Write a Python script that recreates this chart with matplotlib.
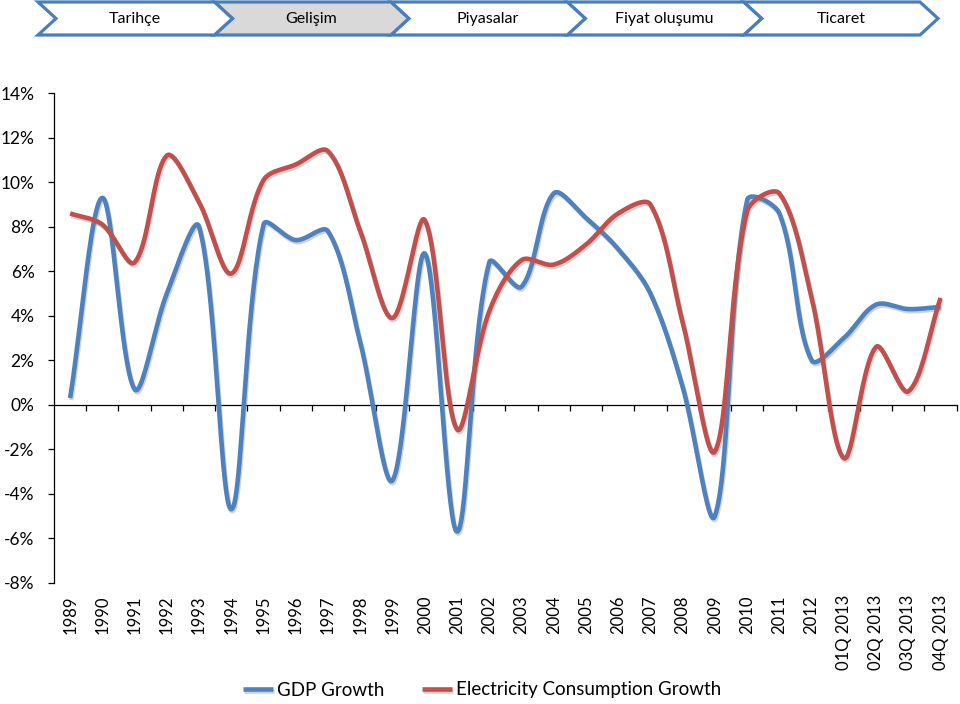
import numpy as np
import matplotlib
matplotlib.use("Agg")
import matplotlib.pyplot as plt
from matplotlib.patches import Polygon
import matplotlib.patheffects as pe
from matplotlib.ticker import FuncFormatter, FixedLocator

plt.rcParams['font.family'] = ['Lato', 'DejaVu Sans']

categories = ['1989', '1990', '1991', '1992', '1993', '1994', '1995', '1996',
              '1997', '1998', '1999', '2000', '2001', '2002', '2003', '2004',
              '2005', '2006', '2007', '2008', '2009', '2010', '2011', '2012',
              '01Q 2013', '02Q 2013', '03Q 2013', '04Q 2013']

gdp_growth = [0.3, 9.3, 0.7, 5.0, 8.0, -4.7, 8.1, 7.4, 7.8, 2.8, -3.4, 6.8,
              -5.7, 6.4, 5.3, 9.5, 8.4, 7.0, 5.0, 0.8, -5.0, 9.2, 8.6, 2.0,
              3.0, 4.5, 4.3, 4.4]

elec_growth = [8.6, 8.1, 6.4, 11.2, 9.1, 5.9, 10.1, 10.8, 11.4, 7.8, 3.9, 8.3,
               -1.1, 4.2, 6.5, 6.3, 7.2, 8.6, 9.0, 3.7, -2.1, 8.7, 9.5, 4.8,
               -2.4, 2.6, 0.6, 4.8]

series_names = ['GDP Growth', 'Electricity Consumption Growth']
series_colors = ['#4F81BD', '#C0504D']

nav_items = ['Tarihçe', 'Gelişim', 'Piyasalar', 'Fiyat oluşumu', 'Ticaret']
nav_active = 'Gelişim'

y_ticks = [-8, -6, -4, -2, 0, 2, 4, 6, 8, 10, 12, 14]


def smooth(xs, ys, sx, sy, n=40):
    """Excel-like smoothed line: Bezier segments whose tangent lengths are
    scaled by neighbouring segment lengths (measured in screen units)."""
    xs = np.asarray(xs, float)
    ys = np.asarray(ys, float)
    P = np.column_stack([xs * sx, ys * sy])
    m = len(P)
    tang = np.zeros_like(P)
    dprev = np.zeros(m)
    dnext = np.zeros(m)
    for i in range(m):
        a = P[max(i - 1, 0)]
        b = P[min(i + 1, m - 1)]
        tang[i] = b - a
        dprev[i] = np.hypot(*(P[i] - a))
        dnext[i] = np.hypot(*(b - P[i]))
    t = np.linspace(0, 1, n)[:, None]
    out = []
    for i in range(m - 1):
        p0, p3 = P[i], P[i + 1]
        s0 = dprev[i] + dnext[i]
        s1 = dprev[i + 1] + dnext[i + 1]
        c1 = p0 + tang[i] * (dnext[i] / s0 / 3 if s0 > 0 else 0)
        c2 = p3 - tang[i + 1] * (dprev[i + 1] / s1 / 3 if s1 > 0 else 0)
        b = (1 - t) ** 3 * p0 + 3 * (1 - t) ** 2 * t * c1 + 3 * (1 - t) * t ** 2 * c2 + t ** 3 * p3
        out.append(b if i == 0 else b[1:])
    B = np.vstack(out)
    return B[:, 0] / sx, B[:, 1] / sy


W, H = 960, 704
fig = plt.figure(figsize=(W / 100, H / 100), dpi=100)

# ---------- navigation chevrons ----------
nav = fig.add_axes([0, 0, 1, 1])
nav.set_xlim(0, W)
nav.set_ylim(H, 0)
nav.axis('off')
x_start, step, depth = 38, 176.4, 18
top, bot = 2, 35
mid = (top + bot) / 2
for i, name in enumerate(nav_items):
    x0 = x_start + i * step
    x1 = x0 + step
    pts = [(x0, top), (x1, top), (x1 + depth, mid), (x1, bot), (x0, bot), (x0 + depth, mid)]
    fc = '#D9D9D9' if name == nav_active else 'white'
    nav.add_patch(Polygon(pts, closed=True, facecolor=fc, edgecolor='#4A7EBB',
                          linewidth=2.3, joinstyle='miter', zorder=2 + (len(nav_items) - i)))
    nav.text(x0 + step / 2 + depth / 2, mid + 0.5, name, ha='center', va='center',
             fontsize=11.5, color='black', zorder=10)

# ---------- chart ----------
left_px, right_px = 54, 956.7
ax_bottom, ax_top = 582.7, 93.3
ax = fig.add_axes([left_px / W, 1 - ax_bottom / H, (right_px - left_px) / W, (ax_bottom - ax_top) / H])
ax.set_xlim(-0.5, len(categories) - 0.5)
ax.set_ylim(min(y_ticks), max(y_ticks))

px_per_x = (right_px - left_px) / len(categories)
px_per_y = (ax_bottom - ax_top) / (max(y_ticks) - min(y_ticks))

xs = np.arange(len(categories))
for vals, name, col in zip([gdp_growth, elec_growth], series_names, series_colors):
    cx, cy = smooth(xs, vals, px_per_x, px_per_y)
    ax.plot(cx, cy, color=col, lw=3.3, label=name, solid_capstyle='butt',
            path_effects=[pe.SimpleLineShadow(offset=(0.8, -1.5), shadow_color='#808080', alpha=0.35),
                          pe.Normal()], zorder=3)

for s in ['top', 'right']:
    ax.spines[s].set_visible(False)
ax.spines['bottom'].set_position(('data', 0))
ax.spines['bottom'].set_linewidth(0.9)
ax.spines['left'].set_linewidth(0.9)

ax.yaxis.set_major_locator(FixedLocator(y_ticks))
ax.yaxis.set_major_formatter(FuncFormatter(lambda v, p: f'{v:.0f}%'))
ax.tick_params(axis='y', direction='out', length=4, width=0.9, pad=10, labelsize=12.5)

ax.set_xticks(np.arange(0.5, len(categories), 1.0))
ax.set_xticklabels([])
ax.tick_params(axis='x', direction='out', length=4, width=0.9)

sec = ax.secondary_xaxis('bottom')
sec.set_xticks(xs)
sec.set_xticklabels(categories, rotation=90, fontsize=12)
sec.tick_params(length=0, pad=9)
sec.spines['bottom'].set_visible(False)

fig.legend(loc='center', bbox_to_anchor=(482 / W, 1 - 690 / H), ncol=2, frameon=False,
           fontsize=13.5, handlelength=1.6, handletextpad=0.2, columnspacing=2.0)

fig.savefig('out.png', dpi=100)
